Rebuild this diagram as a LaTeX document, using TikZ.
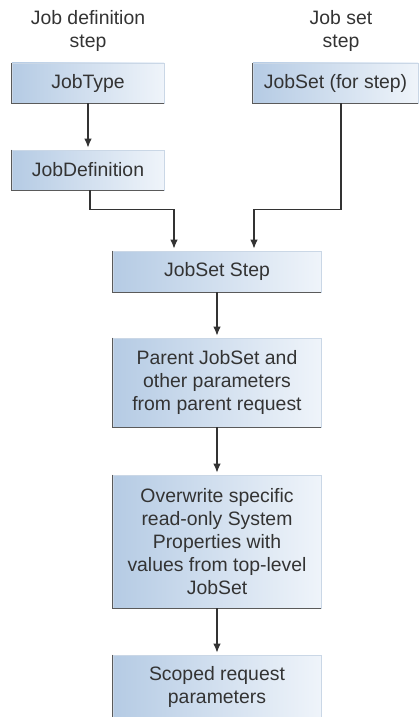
\documentclass[tikz,border=0pt]{standalone}
\usepackage{fontspec}
\setmainfont{Liberation Sans}
\usetikzlibrary{
    calc,
    arrows.meta
}
\definecolor{stepblue}{HTML}{B5CBE4}
\definecolor{stepwhite}{HTML}{EFF4FA}
\definecolor{stepedge}{HTML}{CAD7E6}
\definecolor{stepshadow}{HTML}{5A5A5A}
\definecolor{inkgray}{HTML}{333333}

\begin{document}
\begin{tikzpicture}[
        x=0.5pt, y=-0.5pt,
        stepbox/.style={shade, left color=stepblue, right color=stepwhite, draw=stepedge, line width=0.4pt,
            inner sep=0pt, align=center, text=inkgray, font=\fontsize{9.7}{11.4}\selectfont},
        shadowline/.style={draw=stepshadow, line width=0.6pt},
        headtext/.style={align=center, text=inkgray, inner sep=0pt, font=\fontsize{9.7}{11.5}\selectfont},
        flow/.style={draw=inkgray, line width=0.6pt, -{Latex[length=4.5pt, width=3.8pt]}, shorten >=1pt}
    ]
    \useasboundingbox (0,0) rectangle (419,717);
    \clip (0,0) rectangle (419,717);

    % column headings
    \node[headtext] (defhead) at (88,31) {Job definition\\step};
    \node[headtext] (sethead) at (341,31) {Job set\\step};

    % upper boxes
    \node[stepbox, minimum width=76pt, minimum height=20pt] (jobtype) at (88,83) {JobType};
    \node[stepbox, minimum width=76pt, minimum height=20pt] (jobdef) at (88,170) {JobDefinition};
    \node[stepbox, minimum width=82.5pt, minimum height=20pt] (jobset) at (335.5,83) {JobSet (for step)};

    % central column
    \node[stepbox, minimum width=104pt, minimum height=20.5pt] (jsstep) at (217,271.5) {JobSet Step};
    \node[stepbox, minimum width=104pt, minimum height=44.5pt] (parent) at (217,382.5)
        {Parent JobSet and\\other parameters\\from parent request};
    \node[stepbox, minimum width=104pt, minimum height=66.5pt] (overwrite) at (217,541.5)
        {Overwrite specific\\read-only System\\Properties with\\values from top-level\\JobSet};
    \node[stepbox, minimum width=104pt, minimum height=32pt] (scoped) at (217,687)
        {Scoped request\\parameters};

    % darker left and bottom edges
    \foreach \n in {jobtype,jobdef,jobset,jsstep,parent,overwrite,scoped} {
        \draw[shadowline] (\n.north west) |- (\n.south east);
    }

    % connectors
    \draw[flow] (jobtype) -- (jobdef);
    \draw[flow] ([xshift=1pt]jobdef.south) -- ++(0,19) -| ([xshift=-21.5pt]jsstep.north);
    \draw[flow] ([xshift=2.75pt]jobset.south) -- ++(0,106) -| ([xshift=18.5pt]jsstep.north);
    \foreach \a/\b in {jsstep/parent, parent/overwrite, overwrite/scoped} {
        \draw[flow] (\a.south) -- (\b.north);
    }
\end{tikzpicture}
\end{document}
